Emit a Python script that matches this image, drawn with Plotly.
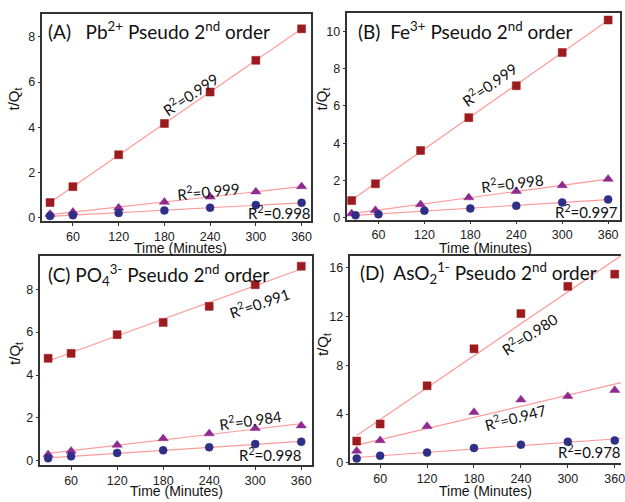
import numpy as np
import plotly.graph_objects as go

W, H = 625, 502

# ---------------- data ----------------
time = [30, 60, 120, 180, 240, 300, 360]
time_b_shift = [25, 56, 115, 178, 240, 300, 360]

pb_sq = [0.68, 1.38, 2.79, 4.17, 5.56, 6.96, 8.35]
pb_tri = [0.17, 0.26, 0.45, 0.70, 0.93, 1.16, 1.39]
pb_cir = [0.09, 0.12, 0.22, 0.33, 0.45, 0.57, 0.67]

fe_sq = [0.93, 1.83, 3.61, 5.37, 7.08, 8.86, 10.6]
fe_tri = [0.23, 0.41, 0.72, 1.09, 1.43, 1.74, 2.08]
fe_cir = [0.14, 0.19, 0.39, 0.51, 0.65, 0.83, 0.99]

po_sq = [4.78, 5.01, 5.88, 6.45, 7.20, 8.21, 9.07]
po_tri = [0.30, 0.46, 0.74, 1.04, 1.27, 1.52, 1.64]
po_cir = [0.12, 0.21, 0.37, 0.49, 0.63, 0.78, 0.89]

as_sq = [1.78, 3.18, 6.32, 9.36, 12.25, 14.49, 15.49]
as_tri = [0.97, 1.83, 3.00, 4.15, 5.18, 5.45, 5.96]
as_cir = [0.35, 0.57, 0.83, 1.21, 1.48, 1.72, 1.83]

x_ticks = [60, 120, 180, 240, 300, 360]

# ---------------- styling ----------------
SQ_COL = "#9b1b1f"
TRI_COL = "#8e2a8e"
CIR_COL = "#2e2f86"
FIT_COL = "#ff9a9a"
AX_COL = "#333333"
TICK_FONT = dict(family="Liberation Sans, Arial", size=12.5, color="#222")
LBL_FONT = dict(family="Lato", size=15, color="#111")
TTL_FONT = dict(family="Lato", size=19, color="#111")


def px(x):
    return x / W


def py(y):
    return 1 - y / H


panels = [
    dict(xd=(42.7, 313.5), yd=(14.3, 224), xr=[20, 373], yr=[-0.13, 9.0], dt=2,
         series=[(time, pb_sq, "square", SQ_COL, 8), (time, pb_tri, "triangle-up", TRI_COL, 9),
                 (time, pb_cir, "circle", CIR_COL, 8)], fit_end=360, mirror=True),
    dict(xd=(349.7, 624), yd=(13.3, 222.7), xr=[19.5, 375.5], yr=[-0.09, 10.97], dt=2,
         series=[(time_b_shift, fe_sq, "square", SQ_COL, 8), (time_b_shift, fe_tri, "triangle-up", TRI_COL, 9),
                 (time, fe_cir, "circle", CIR_COL, 8)], fit_end=360, mirror=True),
    dict(xd=(40.7, 314), yd=(260, 471.7), xr=[20, 374], yr=[-0.2, 9.53], dt=2,
         series=[(time, po_sq, "square", SQ_COL, 8), (time, po_tri, "triangle-up", TRI_COL, 9),
                 (time, po_cir, "circle", CIR_COL, 8)], fit_end=360, mirror=True),
    dict(xd=(352.7, 625), yd=(260, 470), xr=[22, 368], yr=[-0.06, 16.95], dt=4,
         series=[(time, as_sq, "square", SQ_COL, 8), (time, as_tri, "triangle-up", TRI_COL, 9),
                 (time, as_cir, "circle", CIR_COL, 8)], fit_end=368, mirror=False),
]

fig = go.Figure()
layout = dict(width=W, height=H, margin=dict(l=0, r=0, t=0, b=0),
              paper_bgcolor="white", plot_bgcolor="white", showlegend=False)

for i, p in enumerate(panels):
    n = "" if i == 0 else str(i + 1)
    xa, ya = "x" + n, "y" + n
    for xs, ys, sym, col, sz in p["series"]:
        k, b = np.polyfit(xs, ys, 1)
        fx = [xs[0], p["fit_end"]]
        fig.add_trace(go.Scatter(x=fx, y=[k * v + b for v in fx], mode="lines",
                                 line=dict(color=FIT_COL, width=1.2), xaxis=xa, yaxis=ya,
                                 hoverinfo="skip", cliponaxis=True))
    for xs, ys, sym, col, sz in p["series"]:
        fig.add_trace(go.Scatter(x=xs, y=ys, mode="markers",
                                 marker=dict(symbol=sym, color=col, size=sz,
                                             line=dict(color=col, width=0.5)),
                                 xaxis=xa, yaxis=ya, cliponaxis=False))
    common = dict(showline=True, linecolor=AX_COL, linewidth=1.6, ticks="outside",
                  ticklen=3, tickwidth=1.3, tickcolor=AX_COL, showgrid=False,
                  zeroline=False, tickfont=TICK_FONT, ticklabeloverflow="allow")
    layout["xaxis" + n] = dict(common, domain=[px(p["xd"][0]), px(p["xd"][1])],
                               range=p["xr"], tickvals=x_ticks, anchor=ya, mirror=True)
    layout["yaxis" + n] = dict(common, domain=[py(p["yd"][1]), py(p["yd"][0])],
                               range=p["yr"], dtick=p["dt"], tick0=0, anchor=xa,
                               mirror=p["mirror"])

fig.update_layout(**layout)

ann = []


def add_text(text, x, y, font, angle=0, xanchor="center"):
    ann.append(dict(text=text, x=px(x), y=py(y), xref="paper", yref="paper",
                    showarrow=False, font=font, textangle=angle, xanchor=xanchor,
                    yanchor="middle"))


NB = "\u00a0"
add_text("(A)" + NB * 3 + "Pb<sup>2+</sup> Pseudo 2<sup>nd</sup> order", 46, 31, TTL_FONT, xanchor="left")
add_text("(B)" + NB * 2 + "Fe<sup>3+</sup> Pseudo 2<sup>nd</sup> order", 358, 31, TTL_FONT, xanchor="left")
add_text("(C) PO<sub>4</sub><sup>3-</sup> Pseudo 2<sup>nd</sup> order", 46, 279, TTL_FONT, xanchor="left")
add_text("(D)" + NB * 2 + "AsO<sub>2</sub><sup>1-</sup> Pseudo 2<sup>nd</sup> order", 360, 277, TTL_FONT, xanchor="left")

r2 = [
    ("R<sup>2</sup>=0.999", 191.7, 95, -34),
    ("R<sup>2</sup>=0.999", 210, 192.7, -6),
    ("R<sup>2</sup>=0.998", 281.7, 215, 0),
    ("R<sup>2</sup>=0.999", 493, 85, -35),
    ("R<sup>2</sup>=0.998", 515.3, 185, -7),
    ("R<sup>2</sup>=0.997", 590.3, 214, 0),
    ("R<sup>2</sup>=0.991", 260.7, 306.7, -19),
    ("R<sup>2</sup>=0.984", 251.7, 425, -8),
    ("R<sup>2</sup>=0.998", 272.3, 460.7, 0),
    ("R<sup>2</sup>=0.980", 532.7, 338.3, -33),
    ("R<sup>2</sup>=0.947", 519.3, 422.7, -15),
    ("R<sup>2</sup>=0.978", 593, 458.3, 0),
]
for t, x, y, a in r2:
    add_text(t, x, y, LBL_FONT, angle=a)

AT_FONT = dict(family="Liberation Sans, Arial", size=14, color="#111")
for x, y in [(182, 252), (489, 252), (178, 498), (489, 498)]:
    add_text("Time (Minutes)", x, y, AT_FONT)
YT_FONT = dict(family="Liberation Sans, Arial", size=15, color="#111")
for x, y in [(15, 100), (325, 100), (15, 358), (325, 349)]:
    add_text("t/Q<sub>t</sub>", x, y, YT_FONT, angle=-90)

fig.update_layout(annotations=ann)
fig.write_html("out.html")
